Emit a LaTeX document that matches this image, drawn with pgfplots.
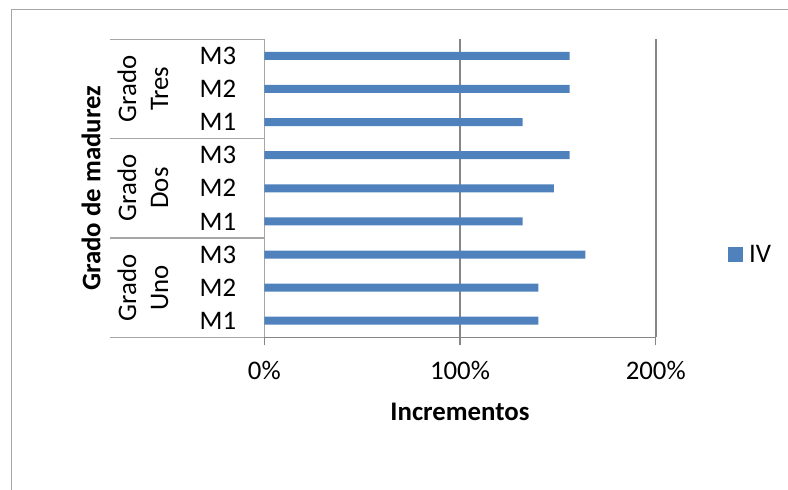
\documentclass[border=0pt]{standalone}
\usepackage{fontspec}
\setmainfont{Carlito}
\usepackage{pgfplots}
\pgfplotsset{compat=1.18}

\definecolor{barblue}{HTML}{4F81BD}
\definecolor{axisgray}{HTML}{868686}
\definecolor{catgray}{HTML}{A6A6A6}
\newcommand{\chartfont}{\fontsize{26.8bp}{32bp}\selectfont}

% Increments per maturity grade and sample (percent)
\pgfplotstableread{
pos  value
1    140
2    140
3    164
4    132
5    148
6    156
7    132
8    156
9    156
}\incrementos

\begin{document}
\begin{tikzpicture}[x=1bp,y=1bp]
\useasboundingbox (0,0) rectangle (788,490);
% chart frame (left and top edges)
\draw[catgray, line width=1.2bp] (11.5,0) -- (11.5,480.5) -- (788,480.5);

\begin{axis}[
  at={(264.3bp,152.7bp)}, anchor=south west,
  scale only axis, width=391.4bp, height=298bp,
  clip=false,
  xmin=0, xmax=200, ymin=0.5, ymax=9.5,
  axis x line*=bottom, axis y line*=left,
  x axis line style={axisgray, line width=1.5bp, -},
  y axis line style={catgray, line width=1.5bp, -},
  xtick={0,100,200}, xticklabels={0\%,100\%,200\%},
  tick align=outside, major tick length=8bp,
  xtick style={axisgray, line width=1.5bp},
  xticklabel style={font=\chartfont, anchor=base, yshift=-34bp},
  xmajorgrids, grid style={axisgray, line width=1.6bp},
  ytick={1,...,9},
  yticklabels={M1,M2,M3,M1,M2,M3,M1,M2,M3},
  ytick style={draw=none},
  yticklabel style={font=\chartfont, inner sep=0pt, anchor=east, xshift=-20bp},
  legend style={at={(axis description cs:1.184,0.2785)}, anchor=west,
    draw=none, fill=none, inner sep=0pt, font=\chartfont,
    /tikz/every odd column/.append style={column sep=4bp}},
  legend image code/.code={\fill[barblue] (0bp,-7.6bp) rectangle (15.3bp,7.6bp);},
]
\addplot[xbar, bar width=8bp, fill=barblue, draw=none] table[x=value, y=pos] {\incrementos};
\addlegendentry{IV}

% group separators of the category axis
\foreach \g in {0.5,3.5,6.5,9.5}{
  \edef\tmp{\noexpand\draw[catgray, line width=1.2bp] (axis cs:0,\g) -- ++(-154.7bp,0bp);}
  \tmp
}
\end{axis}

% group names
\node[rotate=90, align=center, font=\chartfont, inner sep=0pt] at (143,401.3) {Grado\\Tres};
\node[rotate=90, align=center, font=\chartfont, inner sep=0pt] at (143,302.0) {Grado\\Dos};
\node[rotate=90, align=center, font=\chartfont, inner sep=0pt] at (143,202.3) {Grado\\Uno};

% axis titles
\node[rotate=90, font=\chartfont\bfseries, inner sep=0pt] at (91,301.7) {Grado de madurez};
\node[font=\chartfont\bfseries, inner sep=0pt, anchor=base] at (460,69.3) {Incrementos};
\end{tikzpicture}
\end{document}
